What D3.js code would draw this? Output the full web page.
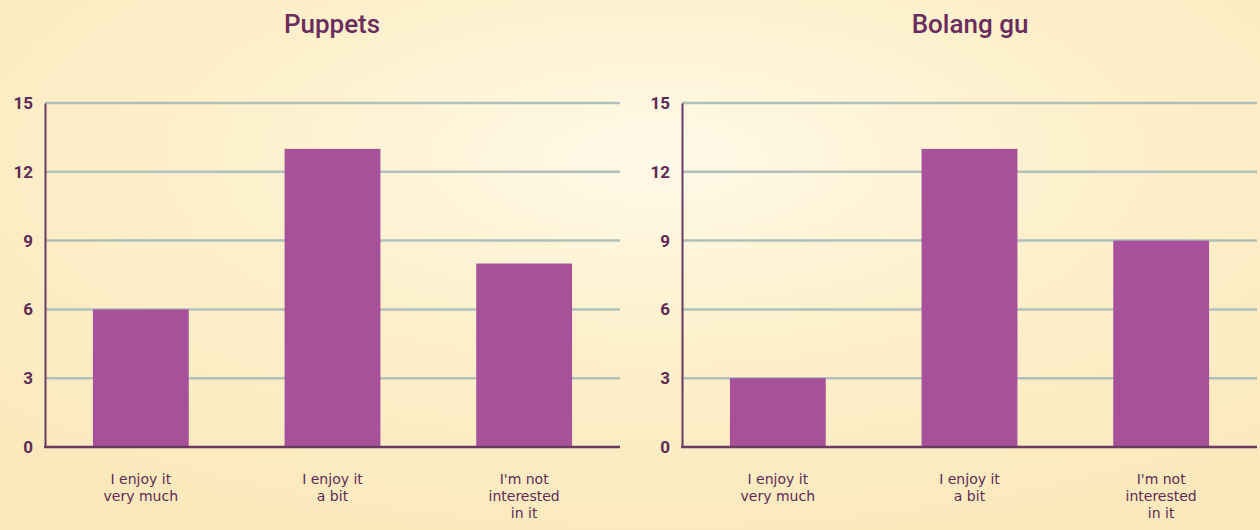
<!DOCTYPE html>
<html><head><meta charset="utf-8">
<script src="https://cdn.jsdelivr.net/npm/d3@7"></script>
<style>body{margin:0;}svg{display:block;}</style>
</head><body>
<script>
const categories = [["I enjoy it","very much"],["I enjoy it","a bit"],["I'm not","interested","in it"]];
const titles = ["Puppets","Bolang gu"];
const puppetsValues = [6, 13, 8];
const bolangguValues = [3, 13, 9];
const yTicks = [0, 3, 6, 9, 12, 15];

const W = 1260, H = 530;
const svg = d3.select("body").append("svg").attr("width", W).attr("height", H);
const defs = svg.append("defs");
const g1 = defs.append("radialGradient").attr("id","bg").attr("cx",0.52).attr("cy",0.3).attr("r",0.75);
g1.append("stop").attr("offset","0%").attr("stop-color","#fff9e8");
g1.append("stop").attr("offset","45%").attr("stop-color","#fdf0cc");
g1.append("stop").attr("offset","100%").attr("stop-color","#fbe9bd");
svg.append("rect").attr("width",W).attr("height",H).attr("fill","url(#bg)");

const panels = [
  {title: titles[0], values: puppetsValues, x0: 45, x1: 620, tx: 332},
  {title: titles[1], values: bolangguValues, x0: 682, x1: 1257, tx: 970}
];
const y = d3.scaleLinear().domain([0,15]).range([447,103]);

panels.forEach(p => {
  const g = svg.append("g");
  const x = d3.scaleBand().domain(d3.range(categories.length)).range([p.x0, p.x1]).paddingInner(0.5).paddingOuter(0.25);
  g.append("text").attr("x", p.tx).attr("y", 33).attr("text-anchor","middle")
    .attr("font-family","Roboto, 'Open Sans', sans-serif").attr("font-weight",500).attr("font-size",26)
    .attr("fill","#6a2b5e").text(p.title);
  g.selectAll(".grid").data(yTicks.filter(t=>t>0)).join("line")
    .attr("x1", p.x0).attr("x2", p.x1).attr("y1", d=>y(d)).attr("y2", d=>y(d))
    .attr("stroke","#b0c0ba").attr("stroke-width",2.5);
  g.selectAll(".bar").data(p.values).join("rect")
    .attr("x",(d,i)=>x(i)).attr("width",x.bandwidth())
    .attr("y",d=>y(d)).attr("height",d=>y(0)-y(d)).attr("fill","#a8519b");
  const ya = d3.axisLeft(y).tickValues(yTicks).tickSize(0).tickPadding(12);
  const ag = g.append("g").attr("transform",`translate(${p.x0},0)`).call(ya);
  ag.select(".domain").attr("stroke","#6b3a63").attr("stroke-width",2);
  ag.selectAll("text").attr("font-family","Roboto, sans-serif").attr("font-weight","bold").attr("font-size",17).attr("fill","#5e2a55");
  g.append("line").attr("x1",p.x0-1).attr("x2",p.x1).attr("y1",y(0)).attr("y2",y(0))
    .attr("stroke","#6b3a63").attr("stroke-width",2.5);
  categories.forEach((lines,i) => {
    const t = g.append("text").attr("text-anchor","middle")
      .attr("font-family","'Comic Sans MS','DejaVu Sans', sans-serif").attr("font-size",14)
      .attr("fill","#5e2a55");
    lines.forEach((ln,j)=>{
      t.append("tspan").attr("x", x(i)+x.bandwidth()/2).attr("y", 484 + j*17).text(ln);
    });
  });
});
</script>
</body></html>
